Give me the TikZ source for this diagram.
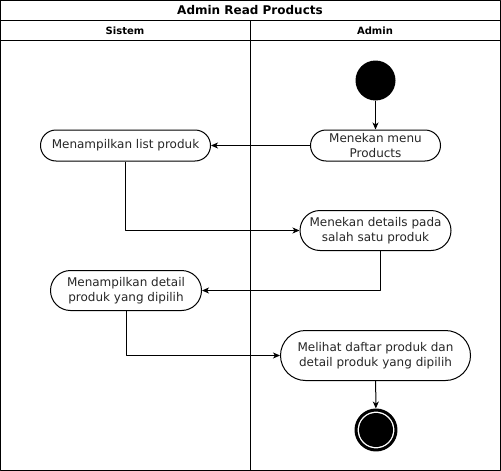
\documentclass[tikz,border=0pt]{standalone}
\usepackage{fontspec}
\setmainfont{DejaVu Sans}
\usetikzlibrary{arrows.meta}
\tikzset{
  act/.style={draw,line width=1pt,rounded corners=#1,align=center,inner sep=0pt,
    font=\fontsize{12}{15}\selectfont,text=black!85},
  act/.default=15.5pt,
  flow/.style={line width=1pt,-{Stealth[length=7pt,width=6pt,inset=2pt]}},
  lane/.style={line width=1pt}
}

\begin{document}
\begin{tikzpicture}[x=1pt,y=-1pt,line join=round]
    \useasboundingbox (0,0) rectangle (501,471);

    % Pool and lanes
    \draw[lane] (0.5,0.5) rectangle (500.5,470.5);
    \draw[lane] (0.5,20.5) -- (500.5,20.5);
    \draw[lane] (0.5,40.5) -- (500.5,40.5);
    \draw[lane] (250.5,20.5) -- (250.5,470.5);
    \draw (250,10.5) node[font=\bfseries\fontsize{12}{14}\selectfont] (title) {Admin Read Products};
    \draw (125,30.5) node[font=\bfseries\fontsize{10}{12}\selectfont] (sistem) {Sistem};
    \draw (375,30.5) node[font=\bfseries\fontsize{10}{12}\selectfont] (admin) {Admin};

    % Start and end
    \draw (375.5,80.5) node[circle,fill=black,minimum size=40pt,inner sep=0pt] (start) {};
    \draw (376,430) node[circle,draw=black,line width=3pt,fill=white,minimum size=40pt,inner sep=0pt] (end) {};
    \fill (end.center) circle (17pt);

    % Activities
    \draw (375.5,145.5) node[act,minimum width=130pt,minimum height=31pt] (menu) {Menekan menu\\Products};
    \draw (125.5,145.5) node[act,minimum width=170pt,minimum height=31pt] (list) {Menampilkan list produk};
    \draw (375.5,230.5) node[act=20pt,minimum width=151pt,minimum height=40pt] (details) {Menekan details pada\\salah satu produk};
    \draw (126,290.5) node[act=20pt,minimum width=151pt,minimum height=40pt] (detail) {Menampilkan detail\\produk yang dipilih};
    \draw (375.5,355.5) node[act=25pt,minimum width=190pt,minimum height=50pt] (lihat) {Melihat daftar produk dan\\detail produk yang dipilih};

    % Flows
    \foreach \source/\target in {start/menu, menu/list, lihat/end} {
            \draw[flow] (\source) -- (\target);
        }
    \draw[flow] (list.south) |- (details.west);
    \draw[flow] ([xshift=5pt]details.south) |- (detail.east);
    \draw[flow] (detail.south) |- (lihat.west);
\end{tikzpicture}
\end{document}
